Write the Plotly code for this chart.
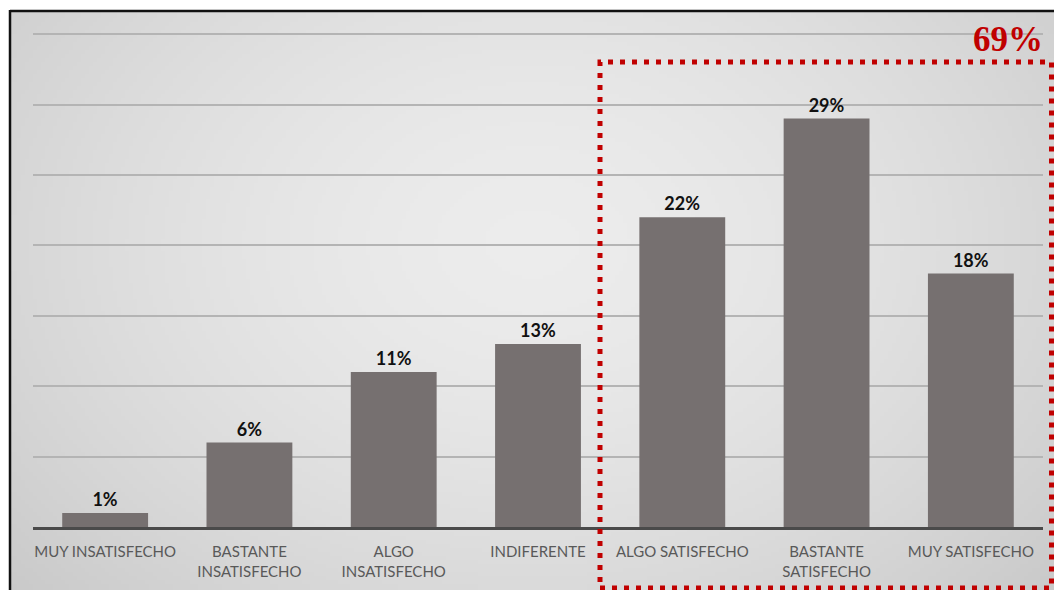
import base64
import struct
import zlib

import plotly.graph_objects as go

# ---- data -----------------------------------------------------------------
categories = [
    "MUY INSATISFECHO",
    "BASTANTE<br>INSATISFECHO",
    "ALGO<br>INSATISFECHO",
    "INDIFERENTE",
    "ALGO SATISFECHO",
    "BASTANTE<br>SATISFECHO",
    "MUY SATISFECHO",
]
percentages = [1, 6, 11, 13, 22, 29, 18]
satisfied_total = "69%"

# ---- figure geometry (pixels) --------------------------------------------
W, H = 1054, 590
Y_MAX = 35          # last gridline value
Y_TOP = 36          # axis range end (room so the last gridline is drawn)
BASE_PX = 527       # baseline pixel row
TOP_GRID_PX = 34    # pixel row of the Y_MAX gridline
ML, MR, MB = 33, 11, H - BASE_PX
PH = round((BASE_PX - TOP_GRID_PX) * Y_TOP / Y_MAX)
MT = H - MB - PH
PW = W - ML - MR


def px_to_paper_x(px):
    return (px - ML) / PW


def px_to_paper_y(py):
    return (H - MB - py) / PH


# ---- soft radial gradient panel background, built as a tiny PNG ----------
def gradient_png(w, h, inner, outer, cx, cy, rx, ry):
    rows = []
    for j in range(h):
        row = bytearray([0])
        for i in range(w):
            dx = (i / (w - 1) - cx) / rx
            dy = (j / (h - 1) - cy) / ry
            t = min(1.0, (dx * dx + dy * dy) ** 0.5)
            t = t ** 1.6
            for c0, c1 in zip(inner, outer):
                row.append(int(round(c0 + (c1 - c0) * t)))
        rows.append(bytes(row))
    raw = b"".join(rows)

    def chunk(tag, data):
        c = struct.pack(">I", len(data)) + tag + data
        return c + struct.pack(">I", zlib.crc32(tag + data) & 0xFFFFFFFF)

    png = b"\x89PNG\r\n\x1a\n"
    png += chunk(b"IHDR", struct.pack(">IIBBBBB", w, h, 8, 2, 0, 0, 0))
    png += chunk(b"IDAT", zlib.compress(raw, 9))
    png += chunk(b"IEND", b"")
    return "data:image/png;base64," + base64.b64encode(png).decode()


bg_src = gradient_png(260, 144, (236, 236, 236), (201, 201, 201),
                      0.50, 0.40, 0.68, 0.90)

fig = go.Figure()

fig.add_trace(go.Bar(
    x=categories,
    y=percentages,
    marker=dict(color="#767070", line=dict(width=0)),
    text=[f"{v}%" for v in percentages],
    textposition="outside",
    textfont=dict(family="Lato, Open Sans, sans-serif", size=18, color="#111111"),
    texttemplate="<b>%{text}</b>",
    cliponaxis=False,
    hoverinfo="skip",
))

fig.update_layout(
    width=W,
    height=H,
    margin=dict(l=ML, r=MR, t=MT, b=MB, pad=0),
    paper_bgcolor="white",
    plot_bgcolor="rgba(0,0,0,0)",
    bargap=0.405,
    showlegend=False,
    font=dict(family="Lato, Open Sans, sans-serif"),
)

fig.update_xaxes(
    showline=True,
    linecolor="#4a4a4a",
    linewidth=3,
    showgrid=False,
    ticks="",
    tickfont=dict(family="Lato, Open Sans, sans-serif", size=15, color="#595959"),
    ticklabelstandoff=9,
)

fig.update_yaxes(
    range=[0, Y_TOP],
    tickvals=list(range(5, Y_MAX + 1, 5)),
    showgrid=True,
    gridcolor="#b4b4b4",
    gridwidth=1.5,
    zeroline=False,
    showticklabels=False,
    ticks="",
    showline=False,
)

# panel background
fig.add_layout_image(dict(
    source=bg_src,
    xref="paper", yref="paper",
    x=px_to_paper_x(11), y=px_to_paper_y(12),
    sizex=(W - 11) / PW, sizey=(H - 12) / PH,
    xanchor="left", yanchor="top",
    sizing="stretch",
    layer="below",
))

# dark frame on the top and left edges of the panel
fig.add_shape(type="line", xref="paper", yref="paper",
              x0=px_to_paper_x(10), x1=px_to_paper_x(W + 5),
              y0=px_to_paper_y(11), y1=px_to_paper_y(11),
              line=dict(color="#111111", width=2.5))
fig.add_shape(type="line", xref="paper", yref="paper",
              x0=px_to_paper_x(10), x1=px_to_paper_x(10),
              y0=px_to_paper_y(10), y1=px_to_paper_y(H + 5),
              line=dict(color="#111111", width=2.5))

# dotted highlight box around the satisfied categories
fig.add_shape(type="rect", xref="paper", yref="paper",
              x0=px_to_paper_x(600), x1=px_to_paper_x(1051.5),
              y0=px_to_paper_y(588), y1=px_to_paper_y(62),
              line=dict(color="#c00000", width=5, dash="5px,7px"),
              fillcolor="rgba(0,0,0,0)", layer="above")

fig.add_annotation(
    text="<b>" + satisfied_total + "</b>",
    xref="paper", yref="paper",
    x=px_to_paper_x(1008), y=px_to_paper_y(40),
    xanchor="center", yanchor="middle",
    showarrow=False,
    font=dict(family="Liberation Serif, Times New Roman, serif", size=35,
              color="#c00000"),
)

fig.write_html("out.html")
